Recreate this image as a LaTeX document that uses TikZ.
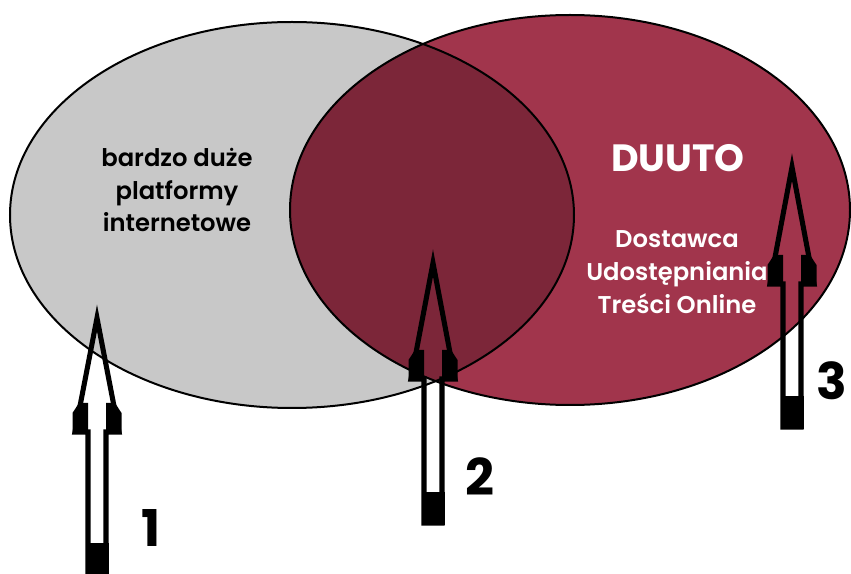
\documentclass[tikz,border=0pt]{standalone}
\usepackage{fontspec}
\setmainfont{Poppins}[UprightFont=* SemiBold,BoldFont=* Bold]
\usepackage{tikz}
\definecolor{setgray}{HTML}{C8C8C8}
\definecolor{setred}{HTML}{A1354C}
\definecolor{setdark}{HTML}{7C2639}
\tikzset{setline/.style={draw=black,line width=1.5pt},
    label text/.style={align=center,font=\fontsize{18.2}{24.5}\selectfont},
    number/.style={font=\bfseries\fontsize{38}{38}\selectfont},
    arrowline/.style={draw=black,line width=3.8pt,miter limit=20}}
% upward block arrow: centre x, tip y, head base y, bottom y
\newcommand{\uparr}[4]{%
  \draw[arrowline] (#1,#2) -- (#1+22,#3+29) -- (#1+9,#3+29) -- (#1+9,#4)
    -- (#1-9,#4) -- (#1-9,#3+29) -- (#1-22,#3+29) -- cycle;
  \fill (#1+9,#3) -- (#1+18,#3) -- (#1+24.5,#3+10) -- (#1+24.5,#3+31) -- (#1+9,#3+31) -- cycle;
  \fill (#1-9,#3) -- (#1-18,#3) -- (#1-24.5,#3+10) -- (#1-24.5,#3+31) -- (#1-9,#3+31) -- cycle;
  \fill (#1-11.5,#4-31) rectangle (#1+11.5,#4+2);}
\begin{document}
\begin{tikzpicture}[x=0.75pt,y=-0.75pt]
\useasboundingbox (0,0) rectangle (851,574);
% the two sets
\fill[setgray] (292,215) ellipse [x radius=282,y radius=193];
\fill[setred] (570,210) ellipse [x radius=280,y radius=195];
\begin{scope}
  \clip (292,215) ellipse [x radius=282,y radius=193];
  \fill[setdark] (570,210) ellipse [x radius=280,y radius=195];
\end{scope}
\draw[setline] (292,215) ellipse [x radius=282,y radius=193];
\draw[setline] (570,210) ellipse [x radius=280,y radius=195];

\node[label text] (vlop) at (177,190) {bardzo duże\\platformy\\internetowe};
\node[text=white,font=\bfseries\fontsize{28.5}{30}\selectfont] (duuto) at (678,158) {DUUTO};
\node[label text,text=white] (dostawca) at (677,272) {Dostawca\\Udostępniania\\Treści Online};

% arrows
\uparr{97}{318}{403}{574}
\uparr{433}{263}{350}{523}
\uparr{792}{167}{255}{427}
\node[number] (n1) at (151,528) {1};
\node[number] (n2) at (480,477) {2};
\node[number] (n3) at (832,381) {3};
\end{tikzpicture}
\end{document}
